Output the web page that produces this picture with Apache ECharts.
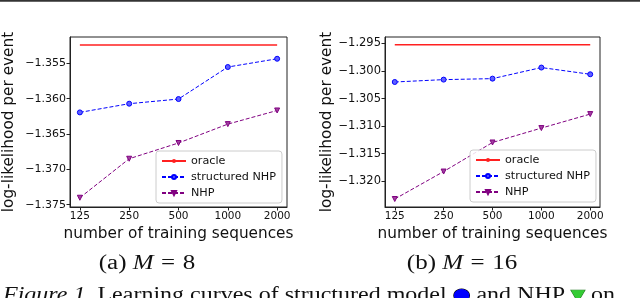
<!DOCTYPE html>
<html><head><meta charset="utf-8">
<script src="https://cdn.jsdelivr.net/npm/echarts@6/dist/echarts.min.js"></script>
<style>html,body{margin:0;padding:0;background:#fff}#c{width:640px;height:298px}</style>
</head><body><div id="c"></div>
<script>
const xLabels = ['125','250','500','1000','2000'];
const oracleA = [-1.35241,-1.35241,-1.35241,-1.35241,-1.35241];
const structA = [-1.36194,-1.36071,-1.36005,-1.35552,-1.35435];
const nhpA    = [-1.37402,-1.36850,-1.36627,-1.36360,-1.36167];
const oracleB = [-1.29524,-1.29524,-1.29524,-1.29524,-1.29524];
const structB = [-1.30200,-1.30157,-1.30139,-1.29938,-1.30060];
const nhpB    = [-1.32322,-1.31824,-1.31297,-1.31036,-1.30782];
const yTicksA = [-1.375,-1.370,-1.365,-1.360,-1.355];
const yTicksB = [-1.320,-1.315,-1.310,-1.305,-1.300,-1.295];
const names = ['oracle','structured NHP','NHP'];

const F = 'DejaVu Sans';
const S = 'Liberation Serif';
const pairs = arr => arr.map((v,i)=>[i,v]);
const fmtY = v => (v<0?'\u2212':'') + Math.abs(v).toFixed(3);

function xAxis(gi){
  return {type:'value', gridIndex:gi, min:-0.2, max:4.2,
    name:'number of training sequences', nameLocation:'middle', nameGap:16,
    nameTextStyle:{fontFamily:F,fontSize:15.3,color:'#111'},
    axisLine:{show:true,onZero:false,lineStyle:{color:'#222',width:1}},
    axisTick:{show:true,length:3.5,lineStyle:{color:'#222'},customValues:[0,1,2,3,4]},
    axisLabel:{fontFamily:F,fontSize:10.5,color:'#111',margin:4,customValues:[0,1,2,3,4],
      formatter:v=>xLabels[Math.round(v)]},
    splitLine:{show:false}};
}
function yAxis(gi,min,max,ticks,gap,fs){
  return {type:'value', gridIndex:gi, min:min, max:max,
    name:'log-likelihood per event', nameLocation:'middle', nameGap:gap,
    nameTextStyle:{fontFamily:F,fontSize:15.3,color:'#111'},
    axisLine:{show:true,onZero:false,lineStyle:{color:'#222',width:1}},
    axisTick:{show:true,length:3.5,lineStyle:{color:'#222'},customValues:ticks},
    axisLabel:{fontFamily:F,fontSize:fs,color:'#111',margin:4,customValues:ticks,formatter:fmtY},
    splitLine:{show:false}};
}
function seriesFor(gi,o,s,n){
  return [
    {name:names[0],type:'line',xAxisIndex:gi,yAxisIndex:gi,data:pairs(o),showSymbol:false,symbol:'none',
      lineStyle:{color:'#ff2020',width:1.5},itemStyle:{color:'#ff2020'},silent:true},
    {name:names[1],type:'line',xAxisIndex:gi,yAxisIndex:gi,data:pairs(s),symbol:'circle',symbolSize:5,
      lineStyle:{color:'#0000ff',width:1,type:[4,2]},itemStyle:{color:'#6060ff',borderColor:'#0000ff',borderWidth:1}},
    {name:names[2],type:'line',xAxisIndex:gi,yAxisIndex:gi,data:pairs(n),symbol:'triangle',symbolRotate:180,symbolSize:5,
      lineStyle:{color:'#800080',width:1,type:[4,2]},itemStyle:{color:'#a040a0',borderColor:'#800080',borderWidth:1}}
  ];
}
function legend(left,top){
  return {left:left,top:top,orient:'vertical',data:names,itemWidth:24,itemHeight:5,itemGap:2,
    padding:[3,6,3,5],borderColor:'#ccc',borderWidth:1,borderRadius:3,backgroundColor:'rgba(255,255,255,0.85)',
    textStyle:{fontFamily:F,fontSize:11.2,color:'#111',lineHeight:14},selectedMode:false};
}
function caption(x,y,txt,sx){
  return {type:'text',x:x,y:y,scaleX:sx,style:{text:txt,align:'center',verticalAlign:'middle',
    fontFamily:S,fontSize:20,fill:'#111',
    rich:{i:{fontStyle:'italic',fontFamily:S,fontSize:20,fill:'#111'},
          e:{fontFamily:S,fontSize:20,fill:'#111',padding:[0,6]}}}};
}
const chart = echarts.init(document.getElementById('c'),null,{renderer:'canvas'});
chart.setOption({
  animation:false,
  grid:[
    {left:70,top:37,width:217,height:170,show:true,borderColor:'#222',borderWidth:1,backgroundColor:'transparent'},
    {left:385,top:37,width:215,height:170,show:true,borderColor:'#222',borderWidth:1,backgroundColor:'transparent'}
  ],
  xAxis:[xAxis(0),xAxis(1)],
  yAxis:[yAxis(0,-1.37533,-1.35127,yTicksA,53,11),yAxis(1,-1.32467,-1.29384,yTicksB,48,11.5)],
  legend:[legend(156,151),legend(470,150)],
  series:[...seriesFor(0,oracleA,structA,nhpA),...seriesFor(1,oracleB,structB,nhpB)],
  graphic:[
    {type:'rect',shape:{x:0,y:0,width:640,height:1.8},style:{fill:'#333'}},
    caption(147,264,'(a) {i|M}{e|=}8',1.25),
    caption(462,264,'(b) {i|M}{e|=}16',1.25),
    {type:'text',x:3,y:286,scaleX:1.2,style:{text:'{i|Figure 1.} Learning curves of structured model {c|\u25CF} and NHP {t|\u25BC} on',
      align:'left',verticalAlign:'top',fontFamily:S,fontSize:20,fill:'#111',
      rich:{i:{fontStyle:'italic',fontFamily:S,fontSize:20,fill:'#111'},
            c:{fontFamily:'DejaVu Sans',fontSize:17,fill:'#0000ff',stroke:'#000',lineWidth:1},
            t:{fontFamily:'DejaVu Sans',fontSize:15,fill:'#33cc33',stroke:'#227722',lineWidth:1}}}}
  ]
});
</script></body></html>
